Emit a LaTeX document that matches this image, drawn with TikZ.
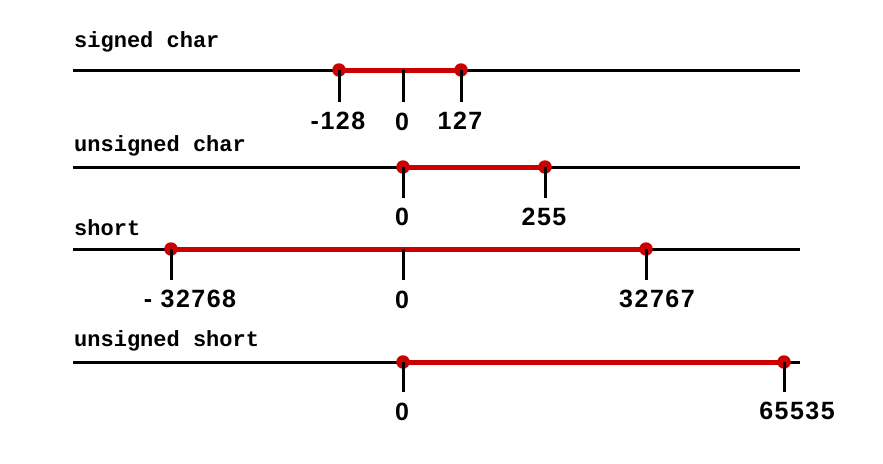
\documentclass[tikz,border=0pt]{standalone}
\usepackage{fontspec}
\setmainfont{Liberation Sans}
\newfontfamily\valuefont{Liberation Sans}[LetterSpace=6]
\newfontfamily\monobold{Liberation Mono Bold}
\definecolor{rangered}{HTML}{CC0000}
\begin{document}
\begin{tikzpicture}[x=1pt,y=-1pt,
  axisline/.style={line width=3pt,black},
  rangeline/.style={line width=5pt,rangered},
  tickline/.style={line width=3pt,black},
  dotnode/.style={circle,fill=rangered,inner sep=0pt,minimum size=13.5pt},
  valuelabel/.style={font=\fontsize{25}{30}\valuefont\bfseries,inner sep=0pt},
  typelabel/.style={font=\fontsize{22}{26}\monobold,anchor=west,inner sep=0pt}]
\useasboundingbox (0,0) rectangle (883,463);
% ---- row 1: signed char
\node[typelabel] (t1) at (74,42) {signed char};
\coordinate (a1l) at (73,70); \coordinate (a1r) at (800,70);
\draw[axisline] (a1l) -- (a1r);
\node[dotnode] (d1a) at (339,70) {};
\node[dotnode] (d1b) at (461,70) {};
\coordinate (z1) at (403,70);
\draw[rangeline] (d1a.center) -- (d1b.center);
\coordinate (k1a) at (339,102); \coordinate (k1z) at (403,102); \coordinate (k1b) at (461,102);
\draw[tickline] (d1a.center) -- (k1a);
\draw[tickline] (z1) -- (k1z);
\draw[tickline] (d1b.center) -- (k1b);
\node[valuelabel] (l1a) at (338,121) {-128};
\node[valuelabel] (l1z) at (402,122) {0};
\node[valuelabel] (l1b) at (460,121) {127};
% ---- row 2: unsigned char
\node[typelabel] (t2) at (74,146) {unsigned char};
\coordinate (a2l) at (73,167); \coordinate (a2r) at (800,167);
\draw[axisline] (a2l) -- (a2r);
\node[dotnode] (d2a) at (403,167) {};
\node[dotnode] (d2b) at (545,167) {};
\draw[rangeline] (d2a.center) -- (d2b.center);
\coordinate (k2a) at (403,198); \coordinate (k2b) at (545,198);
\draw[tickline] (d2a.center) -- (k2a);
\draw[tickline] (d2b.center) -- (k2b);
\node[valuelabel] (l2a) at (402,217) {0};
\node[valuelabel] (l2b) at (544,217) {255};
% ---- row 3: short
\node[typelabel] (t3) at (74,228) {short};
\coordinate (a3l) at (73,249); \coordinate (a3r) at (800,249);
\draw[axisline] (a3l) -- (a3r);
\node[dotnode] (d3a) at (171,249) {};
\node[dotnode] (d3b) at (646,249) {};
\coordinate (z3) at (403,249);
\draw[rangeline] (d3a.center) -- (d3b.center);
\coordinate (k3a) at (171,280); \coordinate (k3z) at (403,280); \coordinate (k3b) at (646,280);
\draw[tickline] (d3a.center) -- (k3a);
\draw[tickline] (z3) -- (k3z);
\draw[tickline] (d3b.center) -- (k3b);
\node[valuelabel] (l3a) at (190,299) {- 32768};
\node[valuelabel] (l3z) at (402,300) {0};
\node[valuelabel] (l3b) at (657,299) {32767};
% ---- row 4: unsigned short
\node[typelabel] (t4) at (74,341) {unsigned short};
\coordinate (a4l) at (73,362); \coordinate (a4r) at (800,362);
\draw[axisline] (a4l) -- (a4r);
\node[dotnode] (d4a) at (403,362) {};
\node[dotnode] (d4b) at (784,362) {};
\draw[rangeline] (d4a.center) -- (d4b.center);
\coordinate (k4a) at (403,392); \coordinate (k4b) at (784,392);
\draw[tickline] (d4a.center) -- (k4a);
\draw[tickline] (d4b.center) -- (k4b);
\node[valuelabel] (l4a) at (402,412) {0};
\node[valuelabel] (l4b) at (797,411) {65535};
\end{tikzpicture}
\end{document}
